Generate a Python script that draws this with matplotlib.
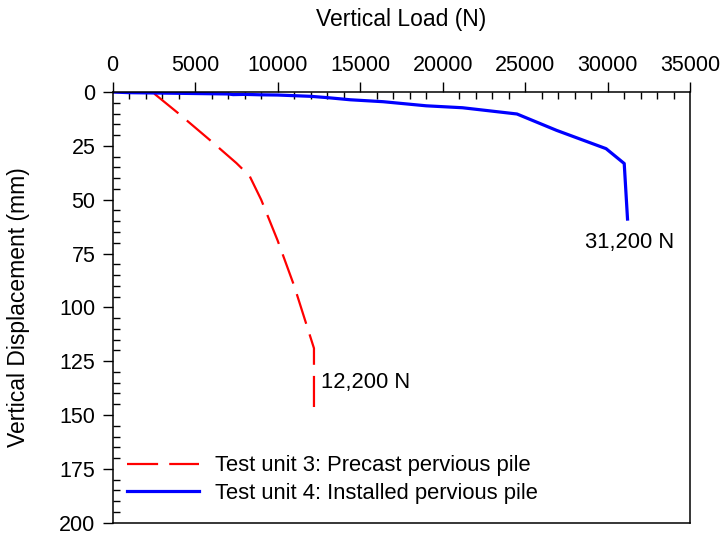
import matplotlib
matplotlib.use("Agg")
import matplotlib.pyplot as plt
from matplotlib.ticker import MultipleLocator

plt.rcParams['font.family'] = ['Liberation Sans', 'DejaVu Sans']

# test unit 3 (precast pervious pile)
load3 = [0, 2400, 4000, 6000, 7500, 8300, 9000, 10000, 11000, 12200, 12200]
disp3 = [0, 0, 10, 23, 33, 39, 50, 69, 90, 119, 150]

# test unit 4 (installed pervious pile)
load4 = [0, 1000, 2000, 3000, 4000, 5000, 6000, 7000, 7300, 8000, 9000, 10000, 11000,
         12000, 13000, 14400, 16400, 19000, 21200, 24500, 26900, 29900, 31000, 31200]
disp4 = [0, 0.3, 0.4, 0.5, 0.6, 0.7, 0.8, 0.9, 1.2, 1.1, 1.3, 1.4, 1.7,
         2.0, 2.6, 3.6, 4.5, 6.4, 7.3, 10.2, 17.8, 26.3, 33.2, 59.0]

fig = plt.figure(figsize=(7.22, 5.35), dpi=100)
ax = fig.add_axes([0.156, 0.023, 0.8, 0.805])

ax.plot(load3, disp3, color='red', lw=1.6, dashes=(14, 5),
        label='Test unit 3: Precast pervious pile')
ax.plot(load4, disp4, color='blue', lw=2.3,
        label='Test unit 4: Installed pervious pile')

ax.text(12650, 135, '12,200 N', fontsize=15.8, ha='left', va='center')
ax.text(31350, 70, '31,200 N', fontsize=15.8, ha='center', va='center')

ax.set_xlim(0, 35000)
ax.set_ylim(200, 0)
ax.xaxis.set_major_locator(MultipleLocator(5000))
ax.xaxis.set_minor_locator(MultipleLocator(1000))
ax.yaxis.set_major_locator(MultipleLocator(25))
ax.yaxis.set_minor_locator(MultipleLocator(5))
ax.xaxis.tick_top()
ax.xaxis.set_label_position('top')
ax.tick_params(which='major', direction='out', length=7.5, width=1, labelsize=15.5)
ax.tick_params(which='minor', direction='in', length=5, width=1)
ax.tick_params(axis='x', which='both', bottom=False, top=True, pad=4)
ax.tick_params(axis='y', which='both', right=False, left=True, pad=5)
for s in ax.spines.values():
    s.set_linewidth(1.1)

ax.set_xlabel('Vertical Load (N)', fontsize=16.5, labelpad=21)
ax.set_ylabel('Vertical Displacement (mm)', fontsize=16.5, labelpad=21)

ax.legend(loc='lower left', bbox_to_anchor=(-0.01, -0.002), frameon=False,
          fontsize=15.8, handlelength=3.3, handletextpad=0.75, labelspacing=0.3)

fig.savefig('out.png', dpi=100)
